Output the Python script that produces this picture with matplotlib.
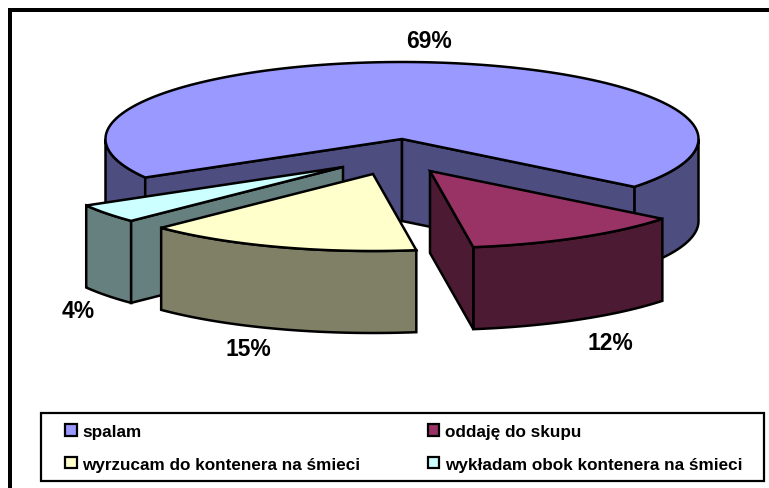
import numpy as np
import matplotlib
matplotlib.use("Agg")
import matplotlib.pyplot as plt
from matplotlib.patches import Polygon, Rectangle, Patch
from matplotlib.transforms import IdentityTransform

categories = ["spalam", "oddaję do skupu", "wyrzucam do kontenera na śmieci",
              "wykładam obok kontenera na śmieci"]
values = [69, 12, 15, 4]
value_labels = ["69%", "12%", "15%", "4%"]
top_colors = ["#9999FF", "#993366", "#FFFFCC", "#CCFFFF"]
side_colors = ["#4D4D80", "#4D1A33", "#808066", "#668080"]

# projection of the pie in pixels
W, H = 769, 489
RX, RY, DEPTH = 296.5, 77, 82
CENTRE = (402, 140)
START = 210.0          # first slice begins here and runs clockwise
OFFSETS = [(0, 0), (28, 32), (-29, 35), (-59, 28)]  # explosion of each slice
LABEL_POS = [(429, 41.5), (610, 343), (248, 350), (78.5, 312)]
DRAW_ORDER = [0, 3, 2, 1]
EDGE = 1.8

fig = plt.figure(figsize=(W / 100, H / 100), dpi=100)
ax = fig.add_axes([0, 0, 1, 1])
ax.set_xlim(0, W)
ax.set_ylim(H, 0)
ax.axis("off")


def rim(cx, cy, a, b, dy=0.0):
    n = max(2, int(abs(a - b) * 2) + 1)
    t = np.radians(np.linspace(a, b, n))
    return np.column_stack([cx + RX * np.cos(t), cy - RY * np.sin(t) + dy])


def poly(pts, color, z):
    ax.add_patch(Polygon(pts, closed=True, facecolor=color, edgecolor="black",
                         linewidth=EDGE, joinstyle="miter", zorder=z))


def draw_slice(i, a, b, z):
    cx, cy = CENTRE[0] + OFFSETS[i][0], CENTRE[1] + OFFSETS[i][1]
    # outer cylinder: the parts of the rim facing the viewer
    for k in range(-1, 3):
        lo, hi = 180 + 360 * k, 360 + 360 * k
        s, e = max(b, lo), min(a, hi)
        if e > s:
            top = rim(cx, cy, s, e)
            poly(np.vstack([top, rim(cx, cy, e, s, DEPTH)]), side_colors[i], z)
    # radial walls that face the viewer
    for ang, visible in ((a, np.cos(np.radians(a)) < 0), (b, np.cos(np.radians(b)) > 0)):
        if visible:
            p = rim(cx, cy, ang, ang)[0]
            poly([(cx, cy), p, (p[0], p[1] + DEPTH), (cx, cy + DEPTH)], side_colors[i], z + 0.1)
    # top face
    poly(np.vstack([[(cx, cy)], rim(cx, cy, a, b)]), top_colors[i], z + 0.2)


spans = {}
angle = START
total = sum(values)
for i, v in enumerate(values):
    sweep = 360.0 * v / total
    spans[i] = (angle, angle - sweep)
    angle -= sweep

for order, i in enumerate(DRAW_ORDER):
    draw_slice(i, spans[i][0], spans[i][1], 2 + order)

for lab, (x, y) in zip(value_labels, LABEL_POS):
    ax.text(x, y, lab, ha="center", va="center", fontsize=16.5, fontweight="bold",
            family="Liberation Sans", color="black", zorder=20)

# outer border: top and left only
ax.add_patch(Rectangle((8, 9), W - 8, 4, facecolor="black", edgecolor="none", zorder=30))
ax.add_patch(Rectangle((8, 9), 4, H - 9, facecolor="black", edgecolor="none", zorder=30))

# legend frame and legend (matplotlib fills columns first)
ax.add_patch(Rectangle((41, 414), 723, 68, facecolor="white", edgecolor="black",
                       linewidth=1.6, zorder=30))
handles = [Patch(facecolor=c, edgecolor="black", linewidth=1.6) for c in top_colors]
col_order = [0, 2, 1, 3]
leg = fig.legend([handles[i] for i in col_order], [categories[i] for i in col_order],
                 ncol=2, loc="upper left",
                 bbox_to_anchor=(65, H - 425), bbox_transform=IdentityTransform(),
                 prop={"family": "Liberation Sans", "weight": "bold", "size": 12.3},
                 frameon=False,
                 handlelength=0.68, handleheight=0.68, handletextpad=0.32,
                 borderaxespad=0, borderpad=0, labelspacing=1.03, columnspacing=3.95)
leg.set_zorder(40)

fig.savefig("out.png", dpi=100)
